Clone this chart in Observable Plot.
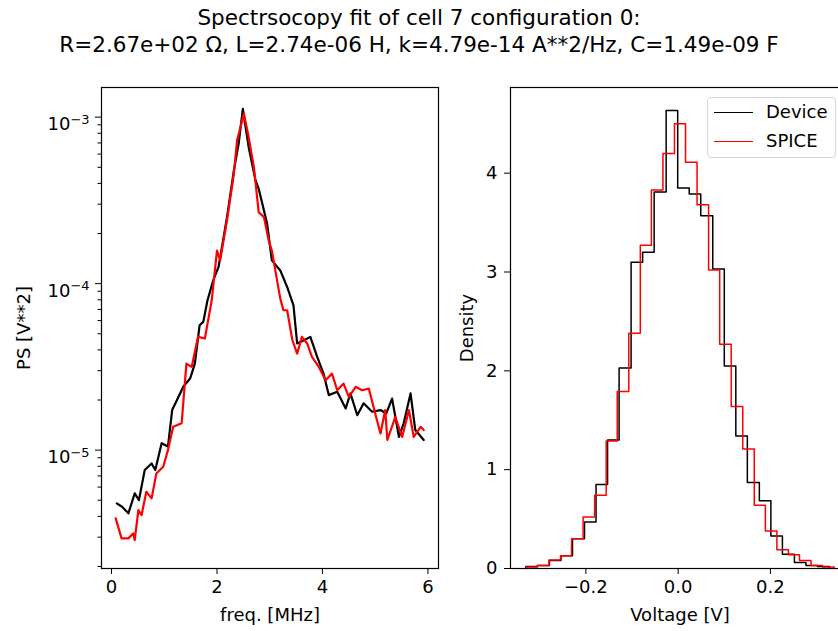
<!DOCTYPE html>
<html>
<head>
<meta charset="utf-8">
<script src="https://cdn.jsdelivr.net/npm/d3@7"></script>
<script src="https://cdn.jsdelivr.net/npm/@observablehq/plot@0.6"></script>
<style>
  html, body { margin: 0; padding: 0; background: #fff; overflow: hidden; }
  #wrap { position: relative; width: 838px; height: 631px; overflow: hidden; font-family: "DejaVu Sans", sans-serif; color: #000; }
  #title { position: absolute; left: 0; top: 4px; width: 838px; text-align: center; font-size: 21.5px; line-height: 27px; }
  .panel { position: absolute; top: 0; height: 631px; }
  .panel svg { max-width: none !important; }
  #legend { position: absolute; left: 707px; top: 97px; width: 129px; height: 61px; box-sizing: border-box;
            border: 1px solid #d6d6d6; border-radius: 4px; background: rgba(255,255,255,0.8); }
  .lg-line { position: absolute; left: 6px; width: 39px; height: 0; }
  .lg-text { position: absolute; left: 58px; font-size: 18px; line-height: 20px; }
</style>
</head>
<body>
<div id="wrap">
  <div id="title">Spectrsocopy fit of cell 7 configuration 0:<br>R=2.67e+02 Ω, L=2.74e-06 H, k=4.79e-14 A**2/Hz, C=1.49e-09 F</div>
  <div id="left" class="panel" style="left:0px;width:440px"></div>
  <div id="right" class="panel" style="left:440px;width:410px"></div>
  <div id="legend">
    <div class="lg-line" style="top:14px;border-top:1.6px solid #000"></div>
    <div class="lg-text" style="top:4px">Device</div>
    <div class="lg-line" style="top:43px;border-top:1.6px solid #f00"></div>
    <div class="lg-text" style="top:33px">SPICE</div>
  </div>
</div>
<script>
// ---- Power spectrum (left panel) ----
const deviceFreq = [0.10,0.20,0.32,0.44,0.52,0.63,0.76,0.83,0.95,1.07,1.15,1.30,1.36,1.49,1.58,1.67,1.74,1.82,1.93,2.03,2.19,2.32,2.41,2.49,2.60,2.73,2.79,2.86,2.95,3.04,3.20,3.33,3.45,3.52,3.65,3.77,3.90,4.02,4.12,4.28,4.44,4.53,4.66,4.78,4.94,5.10,5.21,5.32,5.45,5.54,5.67,5.76,5.92];
const devicePS = [4.79e-6,4.57e-6,4.17e-6,5.50e-6,5.01e-6,7.59e-6,8.32e-6,7.59e-6,1.10e-5,1.05e-5,1.74e-5,2.19e-5,2.40e-5,2.69e-5,3.31e-5,5.62e-5,5.89e-5,7.94e-5,1.05e-4,1.26e-4,2.51e-4,4.79e-4,6.92e-4,1.12e-3,6.61e-4,4.17e-4,3.72e-4,3.02e-4,2.29e-4,1.38e-4,1.20e-4,9.55e-5,7.41e-5,4.37e-5,4.57e-5,4.79e-5,3.63e-5,2.88e-5,2.14e-5,2.24e-5,1.78e-5,2.19e-5,1.62e-5,1.91e-5,1.70e-5,1.74e-5,1.66e-5,2.04e-5,1.20e-5,1.45e-5,2.19e-5,1.32e-5,1.15e-5];
const spiceFreq = [0.08,0.19,0.32,0.41,0.44,0.51,0.57,0.66,0.76,0.85,0.98,1.07,1.17,1.33,1.42,1.52,1.64,1.77,1.90,2.00,2.06,2.19,2.32,2.38,2.51,2.60,2.70,2.79,2.89,2.98,3.04,3.20,3.26,3.33,3.43,3.52,3.61,3.71,3.80,3.93,4.06,4.18,4.28,4.40,4.50,4.63,4.75,4.88,5.00,5.10,5.19,5.23,5.38,5.51,5.64,5.73,5.86,5.92];
const spicePS = [3.89e-6,2.95e-6,2.95e-6,3.16e-6,2.88e-6,4.37e-6,4.07e-6,5.62e-6,5.13e-6,7.24e-6,7.94e-6,1.00e-5,1.38e-5,1.45e-5,3.31e-5,3.16e-5,4.79e-5,4.68e-5,7.94e-5,1.58e-4,1.38e-4,2.40e-4,4.57e-4,7.24e-4,1.05e-3,7.59e-4,5.01e-4,2.69e-4,2.51e-4,1.82e-4,1.58e-4,8.13e-5,6.92e-5,6.92e-5,4.57e-5,3.80e-5,4.79e-5,4.37e-5,3.63e-5,3.16e-5,2.63e-5,2.88e-5,2.29e-5,2.51e-5,2.09e-5,2.40e-5,2.29e-5,2.34e-5,1.66e-5,1.26e-5,1.74e-5,1.15e-5,1.58e-5,1.20e-5,1.74e-5,1.20e-5,1.38e-5,1.32e-5];

// ---- Voltage histograms (right panel) ----
const deviceEdges = [-0.330,-0.305,-0.279,-0.254,-0.229,-0.203,-0.178,-0.153,-0.128,-0.102,-0.077,-0.052,-0.026,-0.001,0.024,0.049,0.075,0.100,0.125,0.150,0.176,0.201,0.226,0.252,0.277,0.302,0.328];
const deviceDensity = [0.02,0.03,0.08,0.13,0.30,0.47,0.85,1.30,2.03,3.10,3.20,3.81,4.635,3.85,3.79,3.57,3.03,2.05,1.34,0.87,0.685,0.33,0.145,0.06,0.03,0.02];
const spiceEdges = [-0.329,-0.305,-0.280,-0.255,-0.231,-0.206,-0.181,-0.156,-0.132,-0.107,-0.082,-0.058,-0.033,-0.008,0.016,0.041,0.066,0.090,0.115,0.140,0.165,0.189,0.214,0.239,0.263,0.288,0.313,0.338];
const spiceDensity = [0.015,0.03,0.085,0.13,0.30,0.52,0.74,1.29,1.79,2.38,3.27,3.83,4.20,4.50,4.11,3.68,3.02,2.27,1.64,1.21,0.64,0.38,0.19,0.14,0.08,0.03,0.015];

// tick labels
const psTicks = [1e-5, 1e-4, 1e-3];
const psTickExponents = ["−5", "−4", "−3"];
const freqTicks = [0, 2, 4, 6];
const voltTicks = [-0.2, 0.0, 0.2];
const voltTickLabels = ["−0.2", "0.0", "0.2"];
const densityTicks = [0, 1, 2, 3, 4];
const minorMultipliers = [2, 3, 4, 5, 6, 7, 8, 9];
const minorDecades = [1e-6, 1e-5, 1e-4];

const psMinor = minorDecades.flatMap(p => minorMultipliers.map(m => m * p));

const toSeries = (xs, ys) => xs.map((x, i) => ({x, y: ys[i]}));
const stepOutline = (edges, dens) => {
  const pts = [{x: edges[0], y: 0}];
  dens.forEach((d, i) => pts.push({x: edges[i], y: d}));
  pts.push({x: edges[edges.length - 1], y: 0});
  return pts;
};

const baseStyle = {fontFamily: "DejaVu Sans", fontSize: "18px", color: "#000", background: "transparent", overflow: "visible", maxWidth: "none"};

const left = Plot.plot({
  width: 440, height: 631,
  marginLeft: 101, marginRight: 2, marginTop: 87, marginBottom: 63,
  style: baseStyle,
  x: {domain: [-0.19, 6.2]},
  y: {type: "log", domain: [1.945e-6, 1.507e-3]},
  marks: [
    Plot.axisX({ticks: freqTicks, tickSize: 6, tickPadding: 6, tickFormat: d => String(d),
      label: "freq. [MHz]", labelAnchor: "center", labelArrow: "none", labelOffset: 52}),
    Plot.axisY({ticks: psTicks, tickSize: 6, tickPadding: 6,
      tickFormat: d => "10^" + psTickExponents[psTicks.indexOf(d)],
      label: "PS [V**2]", labelAnchor: "center", labelArrow: "none", labelOffset: 84}),
    Plot.axisY({ticks: psMinor, tickSize: 3.5, tickFormat: () => "", label: null}),
    Plot.line(toSeries(deviceFreq, devicePS), {x: "x", y: "y", stroke: "#000", strokeWidth: 2.2}),
    Plot.line(toSeries(spiceFreq, spicePS), {x: "x", y: "y", stroke: "#ff0000", strokeWidth: 2.2}),
    Plot.frame({stroke: "#000", strokeWidth: 1.2})
  ]
});
// render "10^−3" as 10 with a superscript exponent
d3.select(left).selectAll("text").each(function() {
  const t = this.textContent;
  if (t.startsWith("10^")) {
    const sel = d3.select(this);
    sel.text("10");
    sel.append("tspan").attr("dy", "-0.5em").attr("font-size", "72%").text(t.slice(3));
    sel.attr("dy", "0.4em");
  }
});
document.getElementById("left").appendChild(left);

const right = Plot.plot({
  width: 410, height: 631,
  marginLeft: 70, marginRight: 1, marginTop: 87, marginBottom: 63,
  style: baseStyle,
  x: {domain: [-0.3634, 0.3714]},
  y: {domain: [0, 4.867]},
  marks: [
    Plot.axisX({ticks: voltTicks, tickSize: 6, tickPadding: 6,
      tickFormat: d => voltTickLabels[voltTicks.findIndex(v => Math.abs(v - d) < 1e-9)],
      label: "Voltage [V]", labelAnchor: "center", labelArrow: "none", labelOffset: 52}),
    Plot.axisY({ticks: densityTicks, tickSize: 6, tickPadding: 7, tickFormat: d => String(d),
      label: "Density", labelAnchor: "center", labelArrow: "none", labelOffset: 50}),
    Plot.line(stepOutline(deviceEdges, deviceDensity), {x: "x", y: "y", curve: "step-after", stroke: "#000", strokeWidth: 1.5}),
    Plot.line(stepOutline(spiceEdges, spiceDensity), {x: "x", y: "y", curve: "step-after", stroke: "#ff0000", strokeWidth: 1.5}),
    Plot.frame({stroke: "#000", strokeWidth: 1.2})
  ]
});
document.getElementById("right").appendChild(right);
</script>
</body>
</html>
